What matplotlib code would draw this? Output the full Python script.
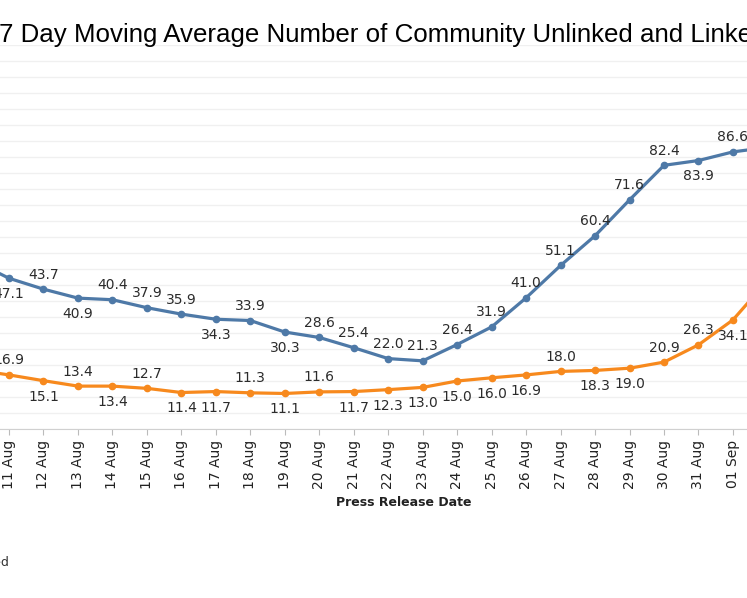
import matplotlib.pyplot as plt
import numpy as np

# press release dates (10 Aug and 02 Sep are only partly in view)
dates = ["10 Aug", "11 Aug", "12 Aug", "13 Aug", "14 Aug", "15 Aug", "16 Aug", "17 Aug",
         "18 Aug", "19 Aug", "20 Aug", "21 Aug", "22 Aug", "23 Aug", "24 Aug", "25 Aug",
         "26 Aug", "27 Aug", "28 Aug", "29 Aug", "30 Aug", "31 Aug", "01 Sep", "02 Sep"]

# 7 day moving averages
linked = [52.5, 47.1, 43.7, 40.9, 40.4, 37.9, 35.9, 34.3, 33.9, 30.3, 28.6, 25.4,
          22.0, 21.3, 26.4, 31.9, 41.0, 51.1, 60.4, 71.6, 82.4, 83.9, 86.6, 88.0]
unlinked = [18.5, 16.9, 15.1, 13.4, 13.4, 12.7, 11.4, 11.7, 11.3, 11.1, 11.6, 11.7,
            12.3, 13.0, 15.0, 16.0, 16.9, 18.0, 18.3, 19.0, 20.9, 26.3, 34.1, 46.4]

# where each value label sits (a = above, b = below)
linked_pos = "ababaaabab" + "aaaaaaaaaaa" + "baa"
unlinked_pos = "aabababbab" + "abbbbbb" + "abbaaba"

blue = "#4e79a7"
orange = "#f7891d"

fig = plt.figure(figsize=(7.47, 5.98), dpi=100)
W, H = 747, 598
ax = fig.add_axes([0, (H - 429) / H, 1, 384 / H])

x = np.arange(len(dates)) - 1  # 11 Aug at 0
ax.plot(x, linked, color=blue, lw=2.3, marker="o", ms=4.5, zorder=3)
ax.plot(x, unlinked, color=orange, lw=2.3, marker="o", ms=4.5, zorder=3)

for vals, pos in [(linked, linked_pos), (unlinked, unlinked_pos)]:
    for xi, v, p in zip(x, vals, pos):
        dy = 10.5 if p == "a" else -11.5
        ax.annotate(f"{v:.1f}", (xi, v), xytext=(0, dy), textcoords="offset points",
                    ha="center", va="center", fontsize=10, color="#2b2b2b",
                    family="DejaVu Sans", annotation_clip=False, zorder=4)

ax.set_xticks(x)
ax.set_xticklabels(dates, rotation=90, fontsize=10, color="#222222")
ax.tick_params(axis="x", length=4, color="#bbbbbb", pad=4)
ax.set_xlim(-9 / 34.4, 21 + 14 / 34.4)

ax.set_yticks(np.arange(0, 121, 5))
ax.set_ylim(0, 120)
ax.yaxis.grid(True, color="#f0f0f0", lw=1)
ax.set_axisbelow(True)
ax.tick_params(axis="y", left=False, labelleft=False)

for s in ["top", "left", "right"]:
    ax.spines[s].set_visible(False)
ax.spines["bottom"].set_color("#d0d0d0")

fig.text(404 / W, 1 - 502 / H, "Press Release Date", ha="center", va="center",
         fontsize=9, fontweight="bold", color="#222222")

fig.text(-1 / W, 1 - 41.7 / H,
         "7 Day Moving Average Number of Community Unlinked and Linked Cases",
         ha="left", va="baseline", fontsize=18.6, family="Liberation Sans", color="black")

fig.text(10 / W, 1 - 563 / H, "Linked", ha="right", va="center", fontsize=9, color="#333333")

fig.savefig("out.png", dpi=100)
